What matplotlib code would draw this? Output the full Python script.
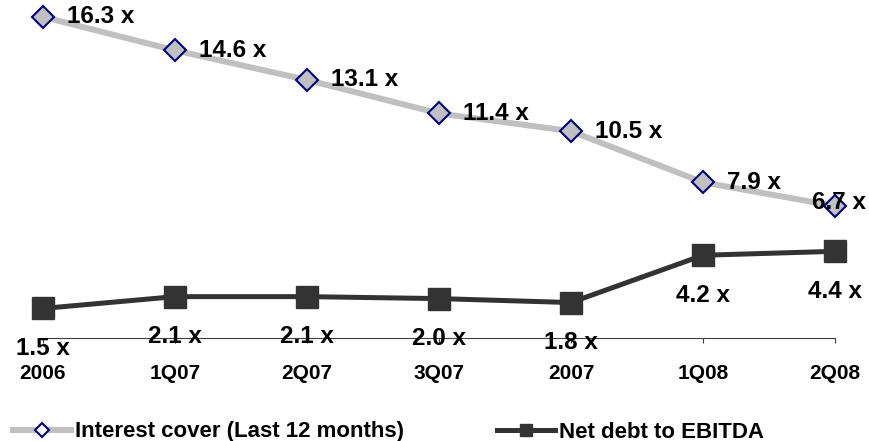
import matplotlib
matplotlib.use('Agg')
import matplotlib.pyplot as plt
from matplotlib.lines import Line2D

categories = ['2006', '1Q07', '2Q07', '3Q07', '2007', '1Q08', '2Q08']
interest_cover = [16.3, 14.6, 13.1, 11.4, 10.5, 7.9, 6.7]
net_debt = [1.5, 2.1, 2.1, 2.0, 1.8, 4.2, 4.4]

plt.rcParams['font.family'] = ['Liberation Sans', 'DejaVu Sans']
plt.rcParams['font.weight'] = 'bold'

light = '#C0C0C0'
dark = '#333333'
navy = '#000080'

fig = plt.figure(figsize=(8.69, 4.41), dpi=100)
ax = fig.add_axes([43 / 869, 103 / 441, 792 / 869, 334.9 / 441])
x = list(range(len(categories)))

ax.plot(x, interest_cover, color=light, lw=4.3, marker='D', ms=11.5,
        mfc=light, mec=navy, mew=1.5, clip_on=False, zorder=3)
ax.plot(x, net_debt, color=dark, lw=3.6, marker='s', ms=15.5,
        mfc=dark, mec=dark, clip_on=False, zorder=3)

# value labels: interest cover to the right, net debt below the point
for i, v in enumerate(interest_cover):
    if i == len(interest_cover) - 1:
        ax.annotate(f'{v:.1f} x', (i, v), xytext=(-23, 4), textcoords='offset pixels',
                    ha='left', va='center', fontsize=17.5, fontweight='bold', zorder=5)
    else:
        ax.annotate(f'{v:.1f} x', (i, v), xytext=(24, 0), textcoords='offset pixels',
                    ha='left', va='center', fontsize=17.5, fontweight='bold', zorder=5)
for i, v in enumerate(net_debt):
    ax.annotate(f'{v:.1f} x', (i, v), xytext=(0, -40), textcoords='offset pixels',
                ha='center', va='center', fontsize=17.5, fontweight='bold', zorder=5)

ax.set_xlim(0, len(categories) - 1)
ax.set_ylim(0, 17)
ax.set_xticks(x)
ax.set_xticklabels(categories, fontsize=15, fontweight='bold')
ax.tick_params(axis='x', direction='out', length=3.6, width=0.8, color='#404040', pad=15)
ax.set_yticks([])
for s in ['top', 'right', 'left']:
    ax.spines[s].set_visible(False)
ax.spines['bottom'].set_color('#404040')
ax.spines['bottom'].set_linewidth(0.8)
ax.patch.set_alpha(0)

h1 = Line2D([], [], color=light, lw=4.3, marker='D', ms=7, mfc='white', mec=navy, mew=1.5)
h2 = Line2D([], [], color=dark, lw=3.6, marker='s', ms=8, mfc=dark, mec=dark)
leg_kw = dict(loc='center left', frameon=False, fontsize=16, borderpad=0, borderaxespad=0,
              handlelength=2.6, handletextpad=0.2, prop={'weight': 'bold', 'size': 16})
fig.legend(handles=[h1], labels=['Interest cover (Last 12 months)'],
           bbox_to_anchor=(13 / 869, 9 / 441), **leg_kw)
fig.legend(handles=[h2], labels=['Net debt to EBITDA'],
           bbox_to_anchor=(497 / 869, 9 / 441), **leg_kw)

fig.savefig('out.png', dpi=100)
